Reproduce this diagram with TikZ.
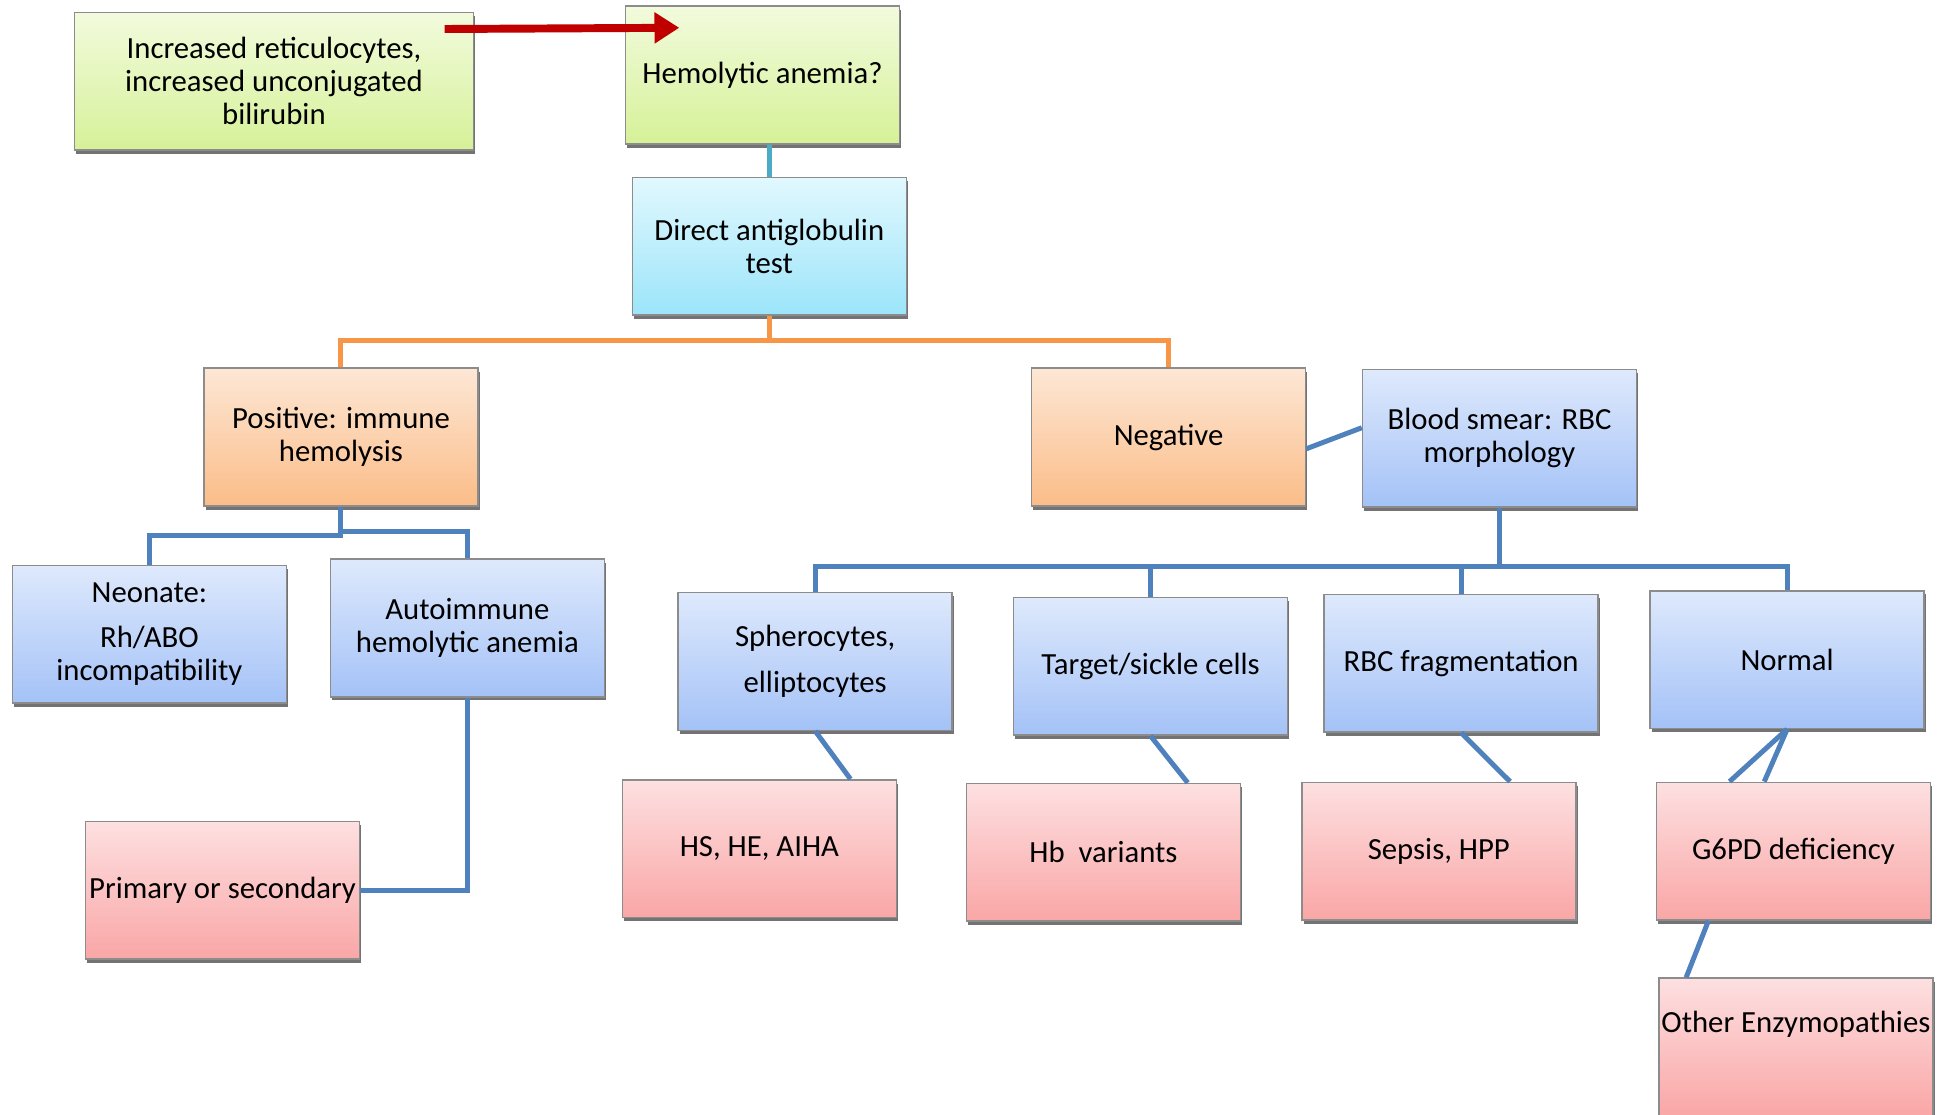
\documentclass[tikz,border=0pt]{standalone}
\usepackage{fontspec}
\setmainfont{Carlito}
\usetikzlibrary{arrows.meta,shadows}
\definecolor{arrowred}{HTML}{C00000}
\definecolor{treeblue}{HTML}{4F81BD}
\definecolor{treeorange}{HTML}{F79646}
\definecolor{treeteal}{HTML}{4BACC6}
\begin{document}
\begin{tikzpicture}[x=0.5pt, y=-0.5pt,
  box/.style={draw=black!45, line width=0.6pt, minimum width=110.5pt, minimum height=55.5pt,
    inner sep=0pt, align=center, font=\fontsize{12.4}{13.4}\selectfont,
    drop shadow={shadow xshift=0.7pt, shadow yshift=-1.5pt, fill=black!55, opacity=1}},
  limebox/.style={box, top color={rgb,255:red,242;green,251;blue,221}, bottom color={rgb,255:red,214;green,241;blue,152}},
  cyanbox/.style={box, top color={rgb,255:red,225;green,248;blue,254}, bottom color={rgb,255:red,156;green,229;blue,250}},
  peachbox/.style={box, top color={rgb,255:red,253;green,231;blue,213}, bottom color={rgb,255:red,251;green,189;blue,136}},
  bluebox/.style={box, top color={rgb,255:red,222;green,233;blue,252}, bottom color={rgb,255:red,164;green,194;blue,247}},
  pinkbox/.style={box, top color={rgb,255:red,253;green,224;blue,225}, bottom color={rgb,255:red,250;green,166;blue,166}},
  link/.style={treeblue, line width=2pt},
  orangelink/.style={treeorange, line width=2pt}]
\useasboundingbox[fill=white] (0,0) rectangle (1568,899);

\node[limebox, minimum width=161pt] (reti) at (221,65.5) {Increased reticulocytes,\\increased unconjugated\\bilirubin};
\node[limebox] (hemo) at (615,60.5) {Hemolytic anemia?};
\node[cyanbox] (dat) at (620.5,198.5) {Direct antiglobulin\\test};
\node[peachbox] (pos) at (275,352.5) {Positive: immune\\hemolysis};
\node[peachbox] (neg) at (942.5,352.5) {Negative};
\node[bluebox] (smear) at (1209.5,353.5) {Blood smear: RBC\\morphology};
\node[bluebox] (neo) at (120.5,511.5) {Neonate:\\[4.5pt]Rh/ABO\\incompatibility};
\node[bluebox] (aiha) at (377,506.5) {Autoimmune\\hemolytic anemia};
\node[pinkbox] (prim) at (179.5,718) {Primary or secondary};
\node[bluebox] (sphero) at (657.5,533.5) {Spherocytes,\\[5pt]elliptocytes};
\node[bluebox] (target) at (928,537.5) {Target/sickle cells};
\node[bluebox] (frag) at (1178.5,535) {RBC fragmentation};
\node[bluebox] (normal) at (1441.5,532) {Normal};
\node[pinkbox] (hs) at (612.5,684.5) {HS, HE, AIHA};
\node[pinkbox] (hb) at (890,687.5) {Hb\ \ variants};
\node[pinkbox] (sepsis) at (1160.5,686.5) {Sepsis, HPP};
\node[pinkbox] (g6pd) at (1446.5,686.5) {G6PD deficiency};
\node[pinkbox, text depth=20pt] (other) at (1448.5,844.5) {Other Enzymopathies};

\draw[arrowred, line width=3.2pt, -{Triangle[length=10pt,width=12pt]},
  drop shadow={shadow xshift=0.6pt, shadow yshift=-1pt, fill=black!40, opacity=1}]
  ([xshift=-12pt,yshift=-7pt]reti.north east) -- ([xshift=22pt,yshift=-9pt]hemo.north west);
\draw[treeteal, line width=2pt] (dat.north) -- (dat.north |- hemo.south);

\draw[orangelink] (dat.south) -- ++(0,20) -| (pos.north);
\draw[orangelink] (dat.south) -- ++(0,20) -| (neg.north);
\draw[link] ([yshift=-4.75pt]neg.east) -- ([yshift=4.25pt]smear.west);

\draw[link] (pos.south) -- ++(0,23) -| (neo.north);
\draw[link] (pos.south) -- ++(0,20) -| (aiha.north);
\draw[link] (aiha.south) -- (aiha.south |- prim.east) -- (prim.east);

\draw[link] (smear.south) -- ++(0,47) -| (sphero.north);
\draw[link] (smear.south) -- ++(0,47) -| (target.north);
\draw[link] (smear.south) -- ++(0,47) -| (frag.north);
\draw[link] (smear.south) -- ++(0,47) -| (normal.north);

\draw[link] (sphero.south) -- ([xshift=36.75pt]hs.north);
\draw[link] (target.south) -- ([xshift=34pt]hb.north);
\draw[link] (frag.south) -- ([xshift=28.75pt]sepsis.north);
\draw[link] (normal.south) -- ([xshift=-25.75pt]g6pd.north);
\draw[link] (normal.south) -- ([xshift=-11.75pt]g6pd.north);
\draw[link] ([xshift=-34.25pt]g6pd.south) -- ([xshift=-44.25pt]other.north);
\end{tikzpicture}
\end{document}
